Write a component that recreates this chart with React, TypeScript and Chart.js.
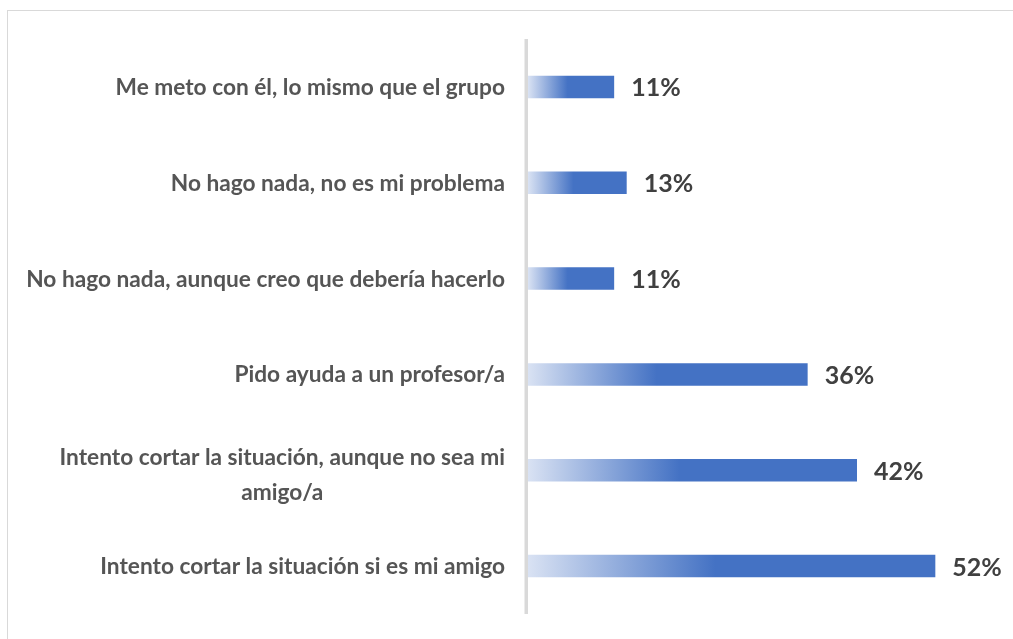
import React, { useEffect, useRef } from "react";
import { Chart, registerables } from "chart.js";

Chart.register(...registerables);

const categories: (string | string[])[] = [
  "Me meto con él, lo mismo que el grupo",
  "No hago nada, no es mi problema",
  "No hago nada, aunque creo que debería hacerlo",
  "Pido ayuda a un profesor/a",
  ["Intento cortar la situación, aunque no sea mi", "amigo/a"],
  "Intento cortar la situación si es mi amigo",
];
const values: number[] = [11, 12.6, 11, 35.7, 42, 52];
const axisMin = 0;
const axisMax = 60;

const FONT = "Lato, 'Open Sans', sans-serif";

const decorPlugin = {
  id: "decor",
  beforeDraw(chart: any) {
    const ctx = chart.ctx;
    ctx.save();
    ctx.fillStyle = "#ffffff";
    ctx.fillRect(0, 0, chart.width, chart.height);
    ctx.strokeStyle = "#d9d9d9";
    ctx.lineWidth = 1;
    ctx.strokeRect(7.5, 10.5, chart.width + 10, chart.height + 10);
    ctx.restore();
  },
  afterDatasetsDraw(chart: any) {
    const ctx = chart.ctx;
    const xs = chart.scales.x;
    const ys = chart.scales.y;
    const area = chart.chartArea;
    const x0 = xs.getPixelForValue(0);
    ctx.save();
    // axis line
    ctx.strokeStyle = "#d9d9d9";
    ctx.lineWidth = 3.5;
    ctx.beginPath();
    ctx.moveTo(x0 - 1.75, area.top);
    ctx.lineTo(x0 - 1.75, area.bottom);
    ctx.stroke();

    // category labels
    ctx.fillStyle = "#555555";
    ctx.font = `bold 22.7px ${FONT}`;
    ctx.textBaseline = "alphabetic";
    const right = x0 - 23;
    const lineGap = 35;
    categories.forEach((lab, i) => {
      const cy = ys.getPixelForValue(i);
      const lines = Array.isArray(lab) ? lab : [lab];
      const n = lines.length;
      const widths = lines.map((l) => ctx.measureText(l).width);
      const blockW = Math.max(...widths);
      const centerX = right - blockW / 2;
      const firstBase = cy + 8 - ((n - 1) * lineGap) / 2 + (n - 1) * 4;
      lines.forEach((l, j) => {
        ctx.textAlign = "center";
        ctx.fillText(l, n > 1 ? centerX : right - widths[j] / 2, firstBase + j * lineGap);
      });
    });

    // data labels
    ctx.fillStyle = "#404040";
    ctx.font = `bold 25px ${FONT}`;
    ctx.textAlign = "left";
    ctx.textBaseline = "alphabetic";
    values.forEach((v, i) => {
      const cy = ys.getPixelForValue(i);
      const xe = xs.getPixelForValue(v);
      ctx.fillText(Math.round(v) + "%", xe + 17, cy + 9.5);
    });
    ctx.restore();
  },
};

export default function App() {
  const ref = useRef<HTMLCanvasElement | null>(null);
  useEffect(() => {
    if (!ref.current) return;
    const chart = new Chart(ref.current, {
      type: "bar",
      data: {
        labels: categories as any,
        datasets: [
          {
            data: values,
            backgroundColor: (c: any) => {
              const ch = c.chart;
              const xs = ch.scales && ch.scales.x;
              if (!xs || !ch.chartArea || c.dataIndex === undefined) return "#4472C4";
              const v = values[c.dataIndex];
              const a = xs.getPixelForValue(0);
              const b = xs.getPixelForValue(v);
              if (!isFinite(a) || !isFinite(b) || b <= a) return "#4472C4";
              const g = ch.ctx.createLinearGradient(a, 0, b, 0);
              g.addColorStop(0, "#d9e2f3");
              g.addColorStop(0.46, "#4472C4");
              g.addColorStop(1, "#4472C4");
              return g;
            },
            borderWidth: 0,
            barPercentage: 0.235,
            categoryPercentage: 1,
          },
        ],
      },
      options: {
        indexAxis: "y",
        animation: false,
        responsive: false,
        events: [],
        layout: { padding: { left: 528, right: 15, top: 39, bottom: 25 } },
        plugins: { legend: { display: false }, tooltip: { enabled: false } },
        scales: {
          x: { display: false, min: axisMin, max: axisMax },
          y: { display: false, offset: true, grid: { offset: true } },
        },
      },
      plugins: [decorPlugin],
    } as any);
    return () => chart.destroy();
  }, []);
  return (
    <div style={{ position: "fixed", left: 0, top: 0, width: 1013, height: 639, background: "#fff" }}>
      <canvas ref={ref} width={1013} height={639} style={{ display: "block", width: 1013, height: 639 }} />
    </div>
  );
}
